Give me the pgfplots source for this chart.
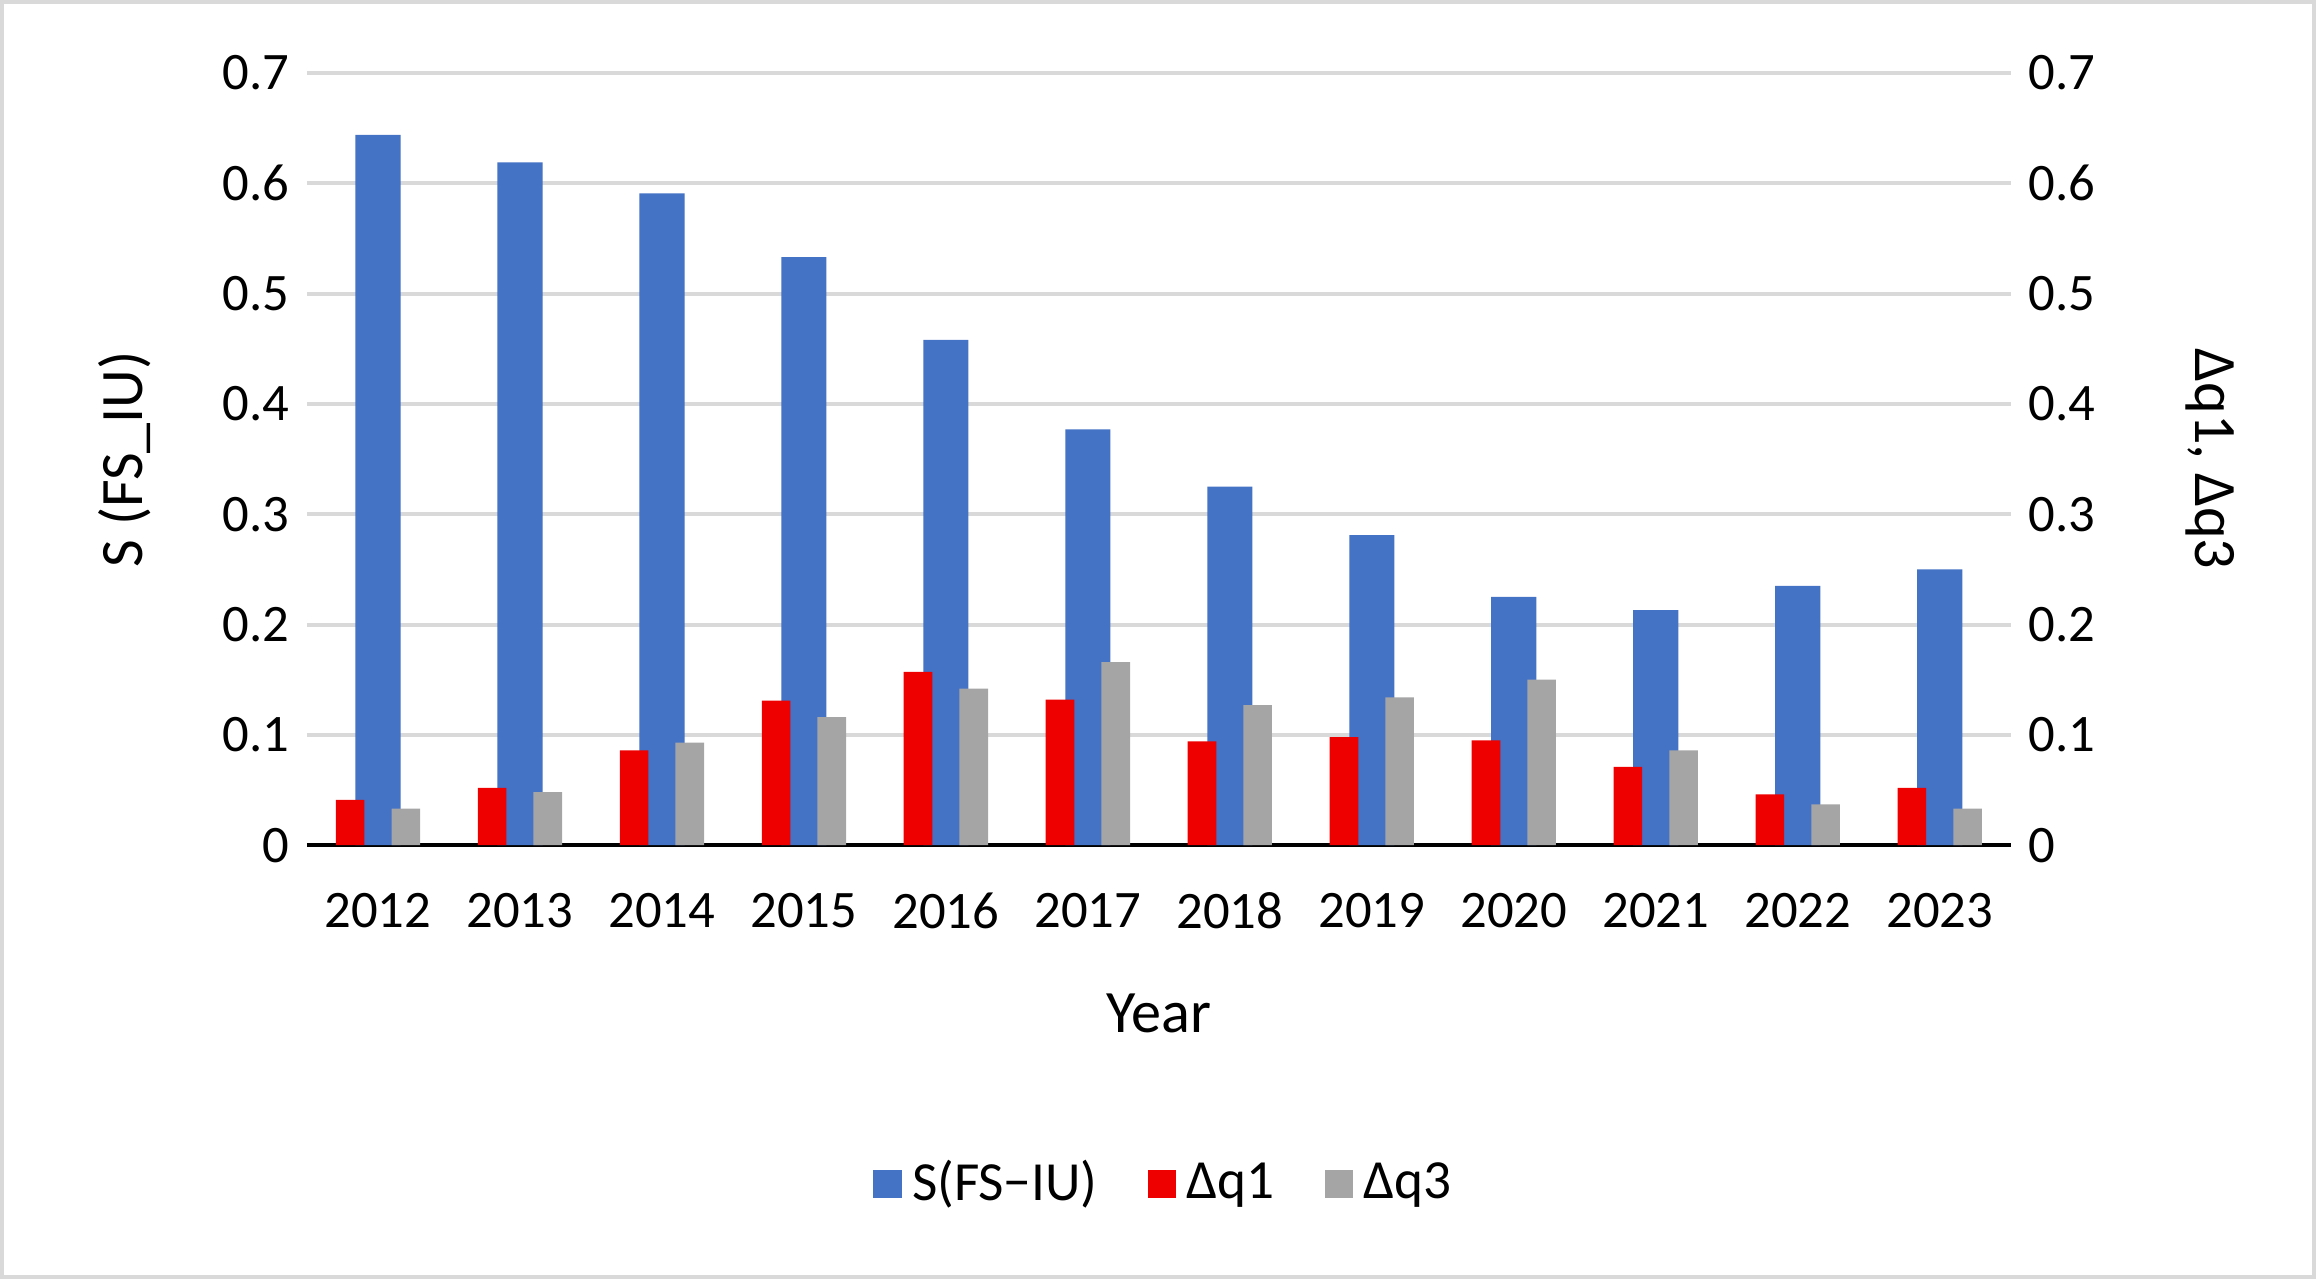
\documentclass[border=0pt]{standalone}
\usepackage{pgfplots}
\pgfplotsset{compat=1.18}
\usepackage{fontspec}
\setmainfont{Carlito}
\definecolor{cb}{RGB}{68,114,196}
\definecolor{cr}{RGB}{238,0,0}
\definecolor{cg}{RGB}{165,165,165}
\definecolor{gl}{RGB}{217,217,217}
\begin{document}
\begin{tikzpicture}
\pgfplotsset{base/.style={width=339.6pt,height=153.9pt,scale only axis,
 xmin=-0.5,xmax=11.5,ymin=0,ymax=0.7,ytick={0,0.1,...,0.7},
 /pgf/number format/assume math mode=true,
 yticklabel style={font=\fontsize{10.5}{12}\selectfont,/pgf/number format/fixed},
 ticklabel style={font=\fontsize{10.5}{12}\selectfont}}}
\begin{axis}[base,
 axis x line*=bottom, axis y line*=left, y axis line style={draw=none},
 ymajorgrids, grid style={gl,line width=0.8pt}, major y tick style={draw=none},
 xtick={0,...,11}, xticklabels={2012,2013,2014,2015,2016,2017,2018,2019,2020,2021,2022,2023},
 major x tick style={draw=none},
 extra x ticks={-0.5,0.5,...,11.5}, extra x tick labels={},
 extra x tick style={major tick length=4pt,tick align=outside,tick style={draw=black,line width=0.6pt}, grid=none},
 x axis line style={line width=0.8pt},
 xticklabel style={yshift=-6pt},
 xlabel={Year}, xlabel style={font=\fontsize{12}{14}\selectfont,at={(axis description cs:0.5,-0.218)},anchor=center},
 ylabel={S (FS\_IU)}, ylabel style={font=\fontsize{12}{14}\selectfont,at={(axis description cs:-0.107,0.5)},anchor=center,rotate=0},
 clip=false,
 legend style={at={(axis description cs:0.505,-0.439)},anchor=center,draw=none,legend columns=3,font=\fontsize{11}{13}\selectfont,/tikz/every even column/.append style={column sep=8pt}},
 legend image code/.code={\fill[#1] (0cm,-0.1cm) rectangle (0.2cm,0.1cm);}
]
\addplot[ybar,bar width=9pt,fill=cb,draw=none] coordinates {(0,0.644)(1,0.619)(2,0.591)(3,0.533)(4,0.458)(5,0.377)(6,0.325)(7,0.281)(8,0.225)(9,0.213)(10,0.235)(11,0.250)};
\addlegendentry{S(FS−IU)}
\addplot[ybar,bar width=5.7pt,bar shift=-5.55pt,fill=cr,draw=none] coordinates {(0,0.041)(1,0.052)(2,0.086)(3,0.131)(4,0.157)(5,0.132)(6,0.094)(7,0.098)(8,0.095)(9,0.071)(10,0.046)(11,0.052)};
\addlegendentry{Δq1}
\addplot[ybar,bar width=5.7pt,bar shift=5.55pt,fill=cg,draw=none] coordinates {(0,0.033)(1,0.048)(2,0.093)(3,0.116)(4,0.142)(5,0.166)(6,0.127)(7,0.134)(8,0.150)(9,0.086)(10,0.037)(11,0.033)};
\addlegendentry{Δq3}
\draw[gl,line width=0.8pt] (axis description cs:-0.179,-0.559) rectangle (axis description cs:1.178,1.092);
\end{axis}
\begin{axis}[base, axis y line*=right, axis x line=none, y axis line style={draw=none}, major y tick style={draw=none},
 ylabel={Δq1, Δq3}, ylabel style={font=\fontsize{12}{14}\selectfont,at={(axis description cs:1.117,0.5)},anchor=center,rotate=180}]
\addplot[draw=none] coordinates {(0,0)};
\end{axis}
\end{tikzpicture}
\end{document}
